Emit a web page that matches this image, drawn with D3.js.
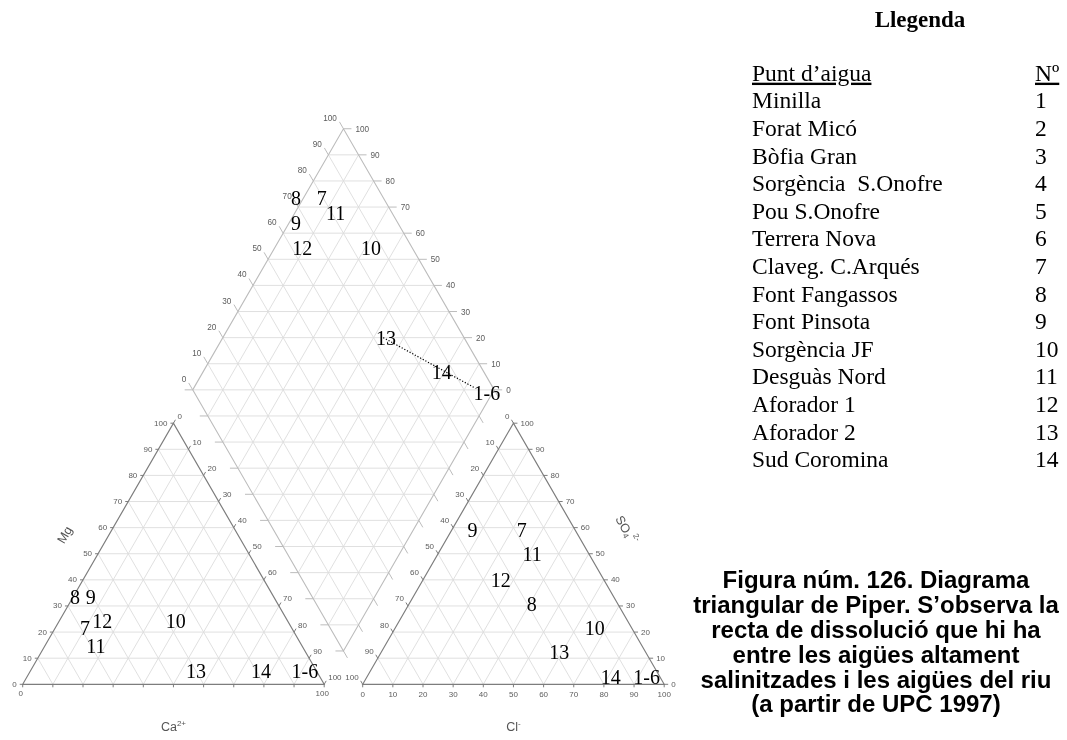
<!DOCTYPE html>
<html>
<head>
<meta charset="utf-8">
<script src="https://cdn.jsdelivr.net/npm/d3@7"></script>
<style>
  body { margin: 0; background: #fff; }
  svg { display: block; will-change: transform; }
</style>
</head>
<body>
<svg id="chart" width="1067" height="740"></svg>
<script>
// ---- Axis ticks (percent) ----
const tickValues = [0, 10, 20, 30, 40, 50, 60, 70, 80, 90, 100];
const gridSteps = [10, 20, 30, 40, 50, 60, 70, 80, 90];

// ---- Cation triangle: Mg (height) and Ca2+ (bottom axis), % meq ----
const cationLabels = ["8", "9", "7", "12", "11", "10", "13", "14", "1-6"];
const cationMg     = [33.3, 33.3, 21.7, 24.4, 14.8, 24.4, 5.2, 5.2, 5.2];
const cationCa     = [0.7, 5.9, 9.8, 14.2, 16.9, 38.6, 54.9, 76.4, 91.0];

// ---- Anion triangle: SO4 (height) and Cl- (bottom axis), % meq ----
const anionLabels = ["9", "7", "11", "12", "8", "10", "13", "14", "1-6"];
const anionSO4    = [59.1, 59.1, 49.8, 39.9, 30.8, 21.4, 12.3, 2.9, 2.9];
const anionCl     = [6.9, 23.2, 31.3, 25.8, 40.7, 66.3, 59.0, 80.8, 92.7];

// ---- Central diamond: a along lower-left side, b along lower-right side ----
const diamondLabels = ["8", "7", "11", "9", "12", "10", "13", "14", "1-6"];
const diamondA      = [102.4, 93.9, 86.4, 97.6, 90.9, 68.1, 45.9, 20.9, 1.8];
const diamondB      = [71.0, 79.5, 81.2, 66.2, 63.6, 86.4, 74.1, 86.1, 96.9];

// Dissolution (mixing) line in the diamond, from Aforador 2 towards 1-6
const mixingA = [46.8, 6.7];
const mixingB = [73.2, 94.0];

// ---- Legend ----
const legendNames = ["Minilla", "Forat Micó", "Bòfia Gran", "Sorgència  S.Onofre",
  "Pou S.Onofre", "Terrera Nova", "Claveg. C.Arqués", "Font Fangassos",
  "Font Pinsota", "Sorgència JF", "Desguàs Nord", "Aforador 1", "Aforador 2", "Sud Coromina"];
const legendNumbers = ["1", "2", "3", "4", "5", "6", "7", "8", "9", "10", "11", "12", "13", "14"];

const captionLines = ["Figura núm. 126. Diagrama", "triangular de Piper. S’observa la",
  "recta de dissolució que hi ha", "entre les aigües altament",
  "salinitzades i les aigües del riu", "(a partir de UPC 1997)"];

// ---- Geometry ----
const S = 301.5;                       // side of each triangle
const H = S * Math.sqrt(3) / 2;
const BASE_Y = 684.3;
const LEFT_X = 22.7;
const GAP = 38.5;
const RIGHT_X = LEFT_X + S + GAP;

const along = d3.scaleLinear().domain([0, 100]).range([0, S]);
const up = d3.scaleLinear().domain([0, 100]).range([0, H]);

// ternary position: p = bottom component, q = height component
const triPos = ox => (p, q) => [ox + along(p) + along(q) / 2, BASE_Y - up(q)];
const cat = triPos(LEFT_X);
const ani = triPos(RIGHT_X);

const DB = [LEFT_X + S + GAP / 2, BASE_Y - (GAP / 2) * Math.sqrt(3)];
const dia = (a, b) => [DB[0] + along(b - a) / 2, DB[1] - up(a + b)];

const svg = d3.select("#chart");
const SANS = "'Liberation Sans', Arial, sans-serif";
const SERIF = "'Liberation Serif', 'Times New Roman', serif";

const GRID = "#dddddd", EDGE = "#7d7d7d", DEDGE = "#bcbcbc", TICK_TXT = "#5c5c5c";

function segs(layer, data, color, width) {
  layer.selectAll(null).data(data).join("line")
    .attr("x1", d => d[0][0]).attr("y1", d => d[0][1])
    .attr("x2", d => d[1][0]).attr("y2", d => d[1][1])
    .attr("stroke", color).attr("stroke-width", width);
}
const offset = (pt, dx, dy) => [pt, [pt[0] + dx, pt[1] + dy]];

// ---------- Grids ----------
const gridLayer = svg.append("g");
[cat, ani].forEach(pos => {
  const lines = [];
  gridSteps.forEach(i => {
    lines.push([pos(0, i), pos(100 - i, i)]);
    lines.push([pos(i, 0), pos(i, 100 - i)]);
    lines.push([pos(100 - i, 0), pos(0, 100 - i)]);
  });
  segs(gridLayer, lines, GRID, 0.9);
});
{
  const lines = [];
  gridSteps.forEach(i => {
    lines.push([dia(i, 0), dia(i, 100)]);
    lines.push([dia(0, i), dia(100, i)]);
  });
  for (let k = 10; k < 200; k += 10) {
    if (k <= 100) lines.push([dia(k, 0), dia(0, k)]);
    else lines.push([dia(100, k - 100), dia(k - 100, 100)]);
  }
  segs(gridLayer, lines, GRID, 0.9);
}

// ---------- Outlines ----------
const outline = svg.append("g").attr("fill", "none");
const closed = d3.line();
outline.append("path").attr("d", closed([dia(0, 0), dia(100, 0), dia(100, 100), dia(0, 100)]) + "Z")
  .attr("stroke", DEDGE).attr("stroke-width", 1.1);
outline.append("path").attr("d", closed([cat(0, 0), cat(100, 0), cat(0, 100)]) + "Z")
  .attr("stroke", EDGE).attr("stroke-width", 1.2);
outline.append("path").attr("d", closed([ani(0, 0), ani(100, 0), ani(0, 100)]) + "Z")
  .attr("stroke", EDGE).attr("stroke-width", 1.2);

// ---------- Ticks ----------
const tickLayer = svg.append("g");
const c60 = 0.5, s60 = Math.sqrt(3) / 2;
const catTicks = [], aniTicks = [], diaTicks = [];
tickValues.forEach(v => {
  catTicks.push(offset(cat(0, v), -3, 0));                   // Mg side
  catTicks.push(offset(cat(v, 100 - v), 4 * c60, -4 * s60)); // right side
  catTicks.push(offset(cat(v, 0), 0, 3));                    // base
  aniTicks.push(offset(ani(0, 100 - v), -4 * c60, -4 * s60)); // left side
  aniTicks.push(offset(ani(100 - v, v), 4, 0));              // SO4 side
  aniTicks.push(offset(ani(v, 0), 0, 3));                    // Cl base
  diaTicks.push(offset(dia(100, v), -8 * c60, -8 * s60));    // upper-left
  diaTicks.push(offset(dia(v, 100), 8, 0));                  // upper-right
  diaTicks.push(offset(dia(v, 0), -8, 0));                   // lower-left
  diaTicks.push(offset(dia(0, v), 8 * c60, 8 * s60));        // lower-right
});
segs(tickLayer, catTicks, EDGE, 1);
segs(tickLayer, aniTicks, EDGE, 1);
segs(tickLayer, diaTicks, DEDGE, 1);

// ---------- Tick labels ----------
const tl = svg.append("g").attr("font-family", SANS).attr("fill", TICK_TXT)
  .attr("dominant-baseline", "central");
function tickText(data, posFn, anchor, dx, dy, size) {
  tl.append("g").selectAll("text").data(data).join("text")
    .attr("x", d => posFn(d)[0] + dx).attr("y", d => posFn(d)[1] + dy)
    .attr("text-anchor", anchor).attr("font-size", size).text(d => d);
}
// cation triangle
tickText(tickValues, v => cat(0, v), "end", -6, 0, 8);
tickText(tickValues, v => cat(v, 100 - v), "start", 4, -7, 8);
tickText([0, 100], v => cat(v, 0), "middle", -2, 9.5, 8);
// anion triangle
tickText(tickValues, v => ani(0, 100 - v), "end", -4, -7, 8);
tickText(tickValues, v => ani(100 - v, v), "start", 7, 0, 8);
tickText(tickValues, v => ani(v, 0), "middle", 0, 10.5, 8);
// diamond
tickText(tickValues, v => dia(100, v), "end", -6.5, -10.5, 8.2);
tickText(tickValues, v => dia(v, 100), "start", 12, 0.5, 8.2);

// ---------- Axis titles ----------
const titles = svg.append("g").attr("font-family", SANS).attr("fill", "#555").attr("font-size", 12.5);
titles.append("text").attr("transform", "translate(65,535) rotate(-60)")
  .attr("text-anchor", "middle").attr("dominant-baseline", "central").text("Mg");
const caT = titles.append("text").attr("x", (cat(0, 0)[0] + cat(100, 0)[0]) / 2).attr("y", 731)
  .attr("text-anchor", "middle");
caT.append("tspan").text("Ca");
caT.append("tspan").attr("font-size", 8).attr("dy", -5).text("2+");
const clT = titles.append("text").attr("x", (ani(0, 0)[0] + ani(100, 0)[0]) / 2).attr("y", 731)
  .attr("text-anchor", "middle");
clT.append("tspan").text("Cl");
clT.append("tspan").attr("font-size", 8).attr("dy", -5).text("-");
const so4 = titles.append("text").attr("transform", "translate(626,530) rotate(60)")
  .attr("text-anchor", "middle").attr("dominant-baseline", "central");
so4.append("tspan").text("SO");
so4.append("tspan").attr("font-size", 8).attr("dy", 3).text("4");
so4.append("tspan").attr("font-size", 8).attr("dy", -9).attr("dx", 1).text("2-");

// ---------- Dissolution line ----------
svg.append("path")
  .attr("d", d3.line()(mixingA.map((a, i) => dia(a, mixingB[i]))))
  .attr("fill", "none").attr("stroke", "#000").attr("stroke-width", 1.2)
  .attr("stroke-dasharray", "1.2,1.8");

// ---------- Sample labels ----------
const marks = svg.append("g").attr("font-family", SERIF).attr("font-size", 20)
  .attr("fill", "#000").attr("text-anchor", "middle").attr("dominant-baseline", "central");
function sampleText(labels, pts) {
  marks.append("g").selectAll("text").data(labels).join("text")
    .attr("x", (d, i) => pts[i][0]).attr("y", (d, i) => pts[i][1]).text(d => d);
}
sampleText(cationLabels, cationLabels.map((d, i) => cat(cationCa[i], cationMg[i])));
sampleText(anionLabels, anionLabels.map((d, i) => ani(anionCl[i], anionSO4[i])));
sampleText(diamondLabels, diamondLabels.map((d, i) => dia(diamondA[i], diamondB[i])));

// ---------- Legend ----------
const leg = svg.append("g").attr("font-family", SERIF).attr("fill", "#000").attr("font-size", 23.5);
leg.append("text").attr("x", 920).attr("y", 26.5).attr("text-anchor", "middle")
  .attr("font-weight", "bold").attr("font-size", 23).text("Llegenda");
const ROW0 = 108.3, ROW = 27.6, NAME_X = 752, NUM_X = 1035;
leg.append("text").attr("x", NAME_X).attr("y", ROW0 - ROW)
  .attr("text-decoration", "underline").text("Punt d’aigua");
leg.append("text").attr("x", NUM_X).attr("y", ROW0 - ROW)
  .attr("text-decoration", "underline").text("Nº");
leg.append("g").selectAll("text").data(legendNames).join("text")
  .attr("x", NAME_X).attr("y", (d, i) => ROW0 + i * ROW)
  .style("white-space", "pre").text(d => d);
leg.append("g").selectAll("text").data(legendNumbers).join("text")
  .attr("x", NUM_X).attr("y", (d, i) => ROW0 + i * ROW).text(d => d);

// ---------- Caption ----------
svg.append("g").attr("font-family", SANS).attr("font-weight", "bold").attr("font-size", 24)
  .attr("text-anchor", "middle").attr("fill", "#000")
  .selectAll("text").data(captionLines).join("text")
  .attr("x", 876).attr("y", (d, i) => 588.3 + i * 24.8).text(d => d);
</script>
</body>
</html>
